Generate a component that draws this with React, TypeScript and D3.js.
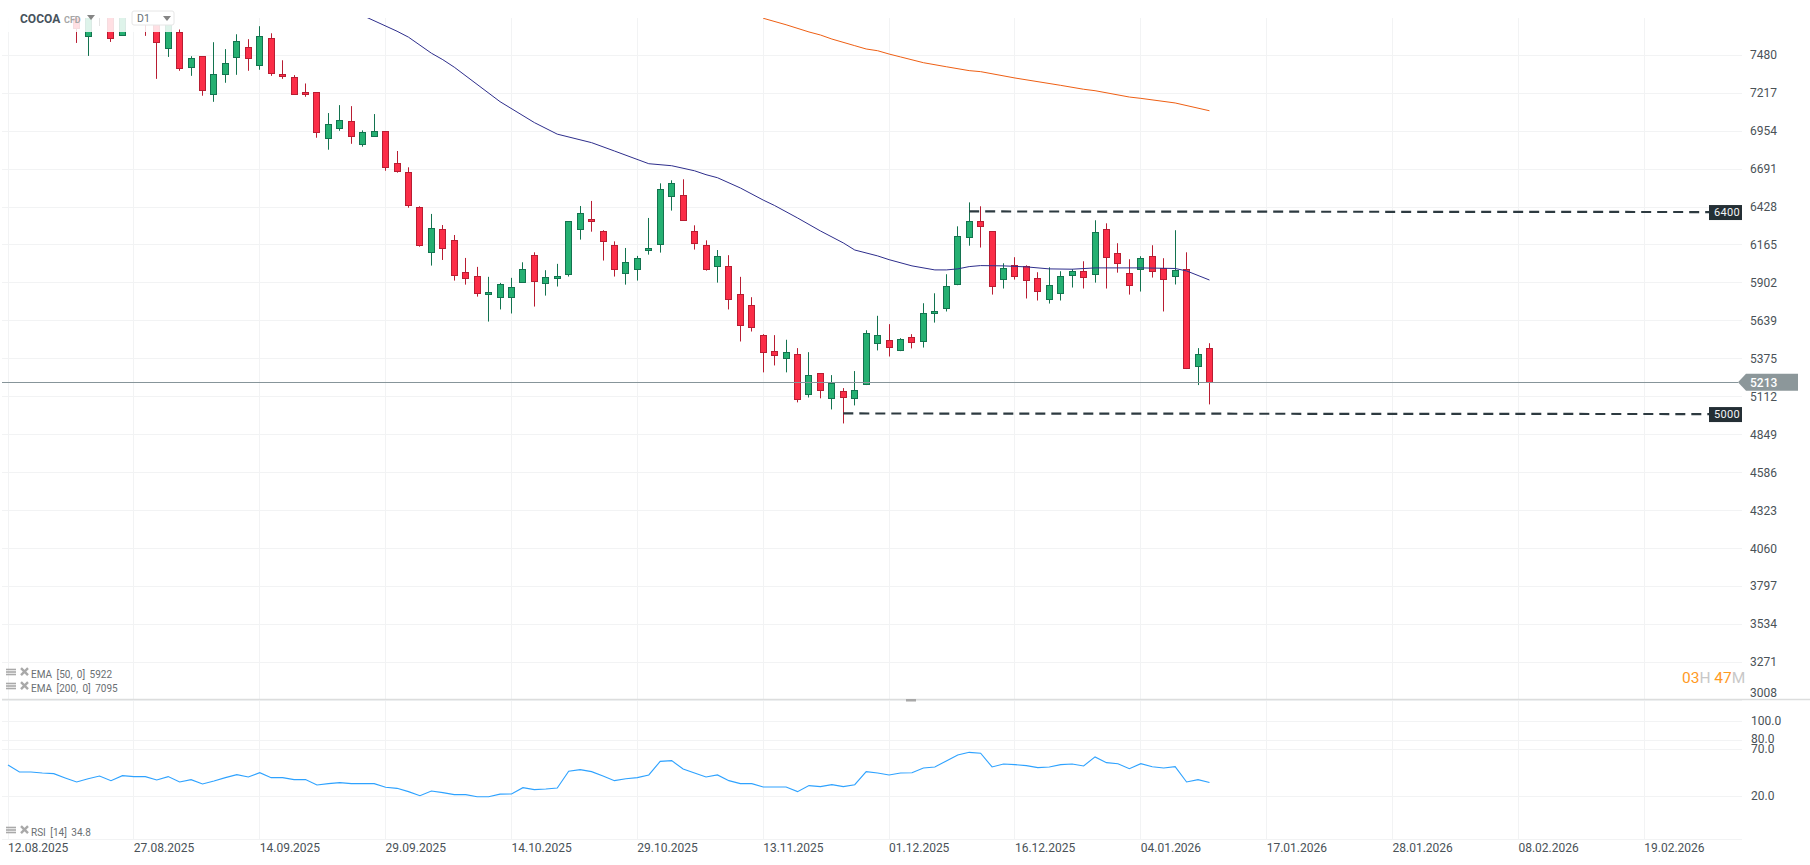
import { useEffect, useRef } from 'react';
import * as d3 from 'd3';

// OHLC per session, index 0 = 12.08.2025. First bars sit above the visible pane, so they are rough guesses.
const opens = [
  7800, 7900, 7850, 7800, 7860, 7820, 7768, 7614, 7760, 7791,
  7621, 7800, 7757, 7768, 7531, 7644, 7399, 7471, 7212, 7351,
  7462, 7540, 7413, 7602, 7353, 7332, 7222, 7222, 6901, 6972,
  7021, 6859, 6915, 6952, 6730, 6668, 6426, 6112, 6273, 6197,
  5976, 5948, 5821, 5803, 5803, 5907, 6094, 5900, 5932, 5962,
  6273, 6343, 6260, 6163, 5969, 5997, 6128, 6170, 6502, 6509,
  6260, 6163, 6017, 6017, 5824, 5748, 5540, 5429, 5381, 5408,
  5132, 5277, 5104, 5152, 5104, 5201, 5484, 5505, 5436, 5526,
  5498, 5692, 5727, 5893, 6218, 6329, 6260, 5927, 6024, 6017,
  5934, 5789, 5831, 5955, 5983, 5962, 6274, 6107, 5969, 5997,
  6087, 6003, 5948, 5997, 5325, 5450,
];
const highs = [
  7950, 8000, 7950, 7900, 7920, 7880, 7815, 7815, 7850, 7826,
  7826, 7850, 7791, 7815, 7757, 7658, 7473, 7473, 7570, 7522,
  7625, 7591, 7681, 7632, 7445, 7342, 7284, 7222, 7079, 7134,
  7127, 6959, 7072, 6952, 6816, 6703, 6433, 6380, 6303, 6234,
  6075, 6013, 5944, 5902, 5937, 6045, 6114, 5990, 6034, 6329,
  6435, 6470, 6267, 6190, 6144, 6089, 6352, 6592, 6613, 6620,
  6301, 6197, 6130, 6094, 5944, 5803, 5547, 5540, 5508, 5450,
  5422, 5277, 5263, 5173, 5291, 5574, 5674, 5616, 5519, 5547,
  5761, 5830, 5962, 6294, 6460, 6433, 6260, 6038, 6080, 6024,
  5976, 6010, 5983, 5997, 6052, 6336, 6315, 6177, 6066, 6087,
  6163, 6073, 6267, 6114, 5450, 5484,
];
const lows = [
  7760, 7800, 7790, 7760, 7780, 7770, 7565, 7475, 7745, 7572,
  7614, 7745, 7614, 7316, 7468, 7372, 7337, 7199, 7157, 7289,
  7344, 7372, 7379, 7337, 7316, 7205, 7192, 6908, 6825, 6956,
  6866, 6846, 6915, 6679, 6666, 6423, 6153, 6022, 6061, 5918,
  5890, 5807, 5634, 5718, 5690, 5907, 5738, 5814, 5877, 5946,
  6202, 6257, 6057, 5946, 5890, 5918, 6098, 6112, 6403, 6336,
  6133, 5987, 5904, 5718, 5496, 5565, 5282, 5330, 5282, 5074,
  5108, 5102, 5025, 4928, 5053, 5194, 5434, 5392, 5429, 5448,
  5454, 5627, 5704, 5886, 6160, 6147, 5821, 5863, 5925, 5794,
  5780, 5759, 5780, 5870, 5863, 5904, 5863, 5973, 5821, 5842,
  5939, 5704, 5891, 5305, 5194, 5060,
];
const closes = [
  7900, 7850, 7800, 7860, 7820, 7790, 7669, 7768, 7800, 7600,
  7791, 7760, 7699, 7572, 7722, 7392, 7464, 7233, 7353, 7429,
  7575, 7462, 7616, 7358, 7337, 7212, 7205, 6943, 7000, 7028,
  6915, 6945, 6952, 6700, 6673, 6437, 6160, 6280, 6140, 5953,
  5932, 5831, 5837, 5893, 5872, 5997, 5914, 5941, 5948, 6329,
  6384, 6329, 6190, 5997, 6045, 6073, 6142, 6550, 6592, 6336,
  6177, 5997, 6087, 5789, 5609, 5595, 5422, 5401, 5422, 5097,
  5263, 5159, 5210, 5111, 5159, 5554, 5540, 5457, 5512, 5491,
  5692, 5706, 5879, 6225, 6329, 6294, 5879, 6003, 5948, 5920,
  5844, 5886, 5948, 5983, 5941, 6253, 6080, 6038, 5886, 6073,
  5983, 5927, 5990, 5311, 5408, 5213,
];

const ema50Index = [
  31, 34, 35, 37, 38, 39, 43, 46, 48, 51, 53, 56, 58, 60, 61, 62, 64, 66, 67, 69, 71, 73, 74,
  76, 77, 79, 81, 82, 83, 84, 85, 87, 89, 91, 93, 95, 99, 102, 103, 105,
];
const ema50Values = [
  7755, 7646, 7605, 7494, 7449, 7397, 7158, 7013, 6933, 6874, 6816, 6728, 6714, 6679, 6652, 6631, 6560, 6476, 6438, 6352, 6262, 6179, 6130,
  6089, 6063, 6020, 5992, 5992, 5999, 6015, 6022, 6020, 6013, 5999, 5997, 6006, 6006, 6002, 5985, 5922,
];
const ema200Index = [66, 68, 70, 71, 72, 74, 75, 76, 77, 78, 80, 82, 84, 85, 88, 92, 94, 95, 98, 99, 102, 105];
const ema200Values = [
  7736, 7691, 7641, 7620, 7592, 7546, 7523, 7511, 7488, 7468, 7428,
  7400, 7373, 7366, 7322, 7271, 7244, 7234, 7190, 7181, 7149, 7095,
];

const rsiValues = [
  53.4, 46, 46, 44.9, 44.2, 39.6, 35.3, 38.8, 41.7, 36.7,
  42, 41, 41, 37.4, 41, 35.3, 37.8, 33.2, 36.4, 39.9,
  43.1, 40.6, 45.2, 39.9, 39.9, 37.8, 37.8, 32.1, 33.5, 34.6,
  33.5, 33.5, 33.5, 29.6, 28.5, 25, 20.7, 25.7, 23.9, 21.8,
  21.8, 19.6, 19.6, 22.3, 22.5, 29.2, 27.1, 27.8, 28.9, 46.7,
  48.4, 46.3, 41.7, 36.7, 38.8, 39.9, 42.8, 57.3, 58, 49.2,
  44.9, 40.6, 42.8, 36.7, 33.5, 33.5, 30, 30, 30, 25,
  31.4, 30.3, 32.4, 30.3, 32.4, 46.3, 44.9, 42.8, 44.9, 45.2,
  50.2, 51.3, 57.7, 64.1, 66.9, 65.9, 51.3, 54.5, 53.8, 52.7,
  50.6, 51.3, 53.8, 54.5, 52.4, 62, 55.9, 54.8, 49.5, 54.8,
  51.6, 50.2, 51.6, 35.3, 37.8, 34.8,
];

const dateTickIndex = [0, 11, 22, 33, 44, 55, 66, 77, 88, 99, 110, 121, 132, 143];
const dateLabels = [
  '12.08.2025', '27.08.2025', '14.09.2025', '29.09.2025', '14.10.2025', '29.10.2025', '13.11.2025',
  '01.12.2025', '16.12.2025', '04.01.2026', '17.01.2026', '28.01.2026', '08.02.2026', '19.02.2026',
];
const priceTicks = [7480, 7217, 6954, 6691, 6428, 6165, 5902, 5639, 5375, 5112, 4849, 4586, 4323, 4060, 3797, 3534, 3271, 3008];
const rsiTicks = [100, 80, 70, 20];

const lastPrice = 5213;
const levels = [
  { price: 6400, from: 84 },
  { price: 5000, from: 73 },
];

const FONT = 'Roboto, sans-serif';
const UP_FILL = '#25b072';
const UP_LINE = '#13734f';
const DOWN_FILL = '#fb2d47';
const DOWN_LINE = '#b81d32';
const GRID = '#f2f3f4';
const TEXT = '#4a5257';

export default function App() {
  const svgRef = useRef<SVGSVGElement>(null);

  useEffect(() => {
    if (!svgRef.current) return;
    const svg = d3.select(svgRef.current);
    svg.selectAll('*').remove();

    const gridRight = 1742;
    const x = d3.scaleLinear().domain([0, 143]).range([8, 1644.3]);
    const y = d3.scaleLinear().domain([7480, 3008]).range([55.2, 700.5]);
    const r = d3.scaleLinear().domain([100, 20]).range([721.3, 796.3]);
    const crisp = (v: number) => Math.floor(v) + 0.5;

    svg.append('defs').append('clipPath').attr('id', 'price-pane')
      .append('rect').attr('x', 0).attr('y', 18).attr('width', 1810).attr('height', 681);

    // 1. Grilles
    const grid = svg.append('g');
    grid.selectAll('line.v').data(dateTickIndex).enter().append('line')
      .attr('x1', d => crisp(x(d))).attr('x2', d => crisp(x(d))).attr('y1', 18).attr('y2', 839.5)
      .attr('stroke', GRID);
    const hLines = [...priceTicks.map(d => y(d)), ...rsiTicks.map(d => r(d)), 839.5];
    grid.selectAll('line.h').data(hLines).enter().append('line')
      .attr('x1', 2).attr('x2', gridRight).attr('y1', d => crisp(d)).attr('y2', d => crisp(d))
      .attr('stroke', GRID);

    // 2. Bougies
    const pane = svg.append('g').attr('clip-path', 'url(#price-pane)');
    const candles = pane.selectAll('g').data(opens.map((o, i) => i)).enter().append('g');
    const cx = (i: number) => crisp(x(i));
    const isUp = (i: number) => closes[i] >= opens[i];
    candles.append('line')
      .attr('x1', cx).attr('x2', cx)
      .attr('y1', i => y(highs[i])).attr('y2', i => y(lows[i]))
      .attr('stroke', i => (isUp(i) ? UP_LINE : DOWN_LINE))
      .attr('stroke-width', 1);
    candles.append('rect')
      .attr('x', i => cx(i) - 3)
      .attr('width', 6)
      .attr('y', i => Math.round(y(Math.max(opens[i], closes[i]))) + 0.5)
      .attr('height', i => Math.max(1, Math.round(Math.abs(y(opens[i]) - y(closes[i])))))
      .attr('fill', i => (isUp(i) ? UP_FILL : DOWN_FILL))
      .attr('stroke', i => (isUp(i) ? UP_LINE : DOWN_LINE))
      .attr('stroke-width', 1);

    // 3. Moyennes mobiles
    const emaLine = d3.line<number>().x(d => x(d)).y(0);
    pane.append('path')
      .attr('fill', 'none').attr('stroke', '#2e2e8c').attr('stroke-width', 1)
      .attr('d', emaLine.y((d, i) => y(ema50Values[i]))(ema50Index));
    pane.append('path')
      .attr('fill', 'none').attr('stroke', '#ee5f14').attr('stroke-width', 1)
      .attr('d', emaLine.y((d, i) => y(ema200Values[i]))(ema200Index));

    // 4. Dernier prix
    pane.append('line')
      .attr('x1', 2).attr('x2', 1738).attr('y1', crisp(y(lastPrice))).attr('y2', crisp(y(lastPrice)))
      .attr('stroke', '#87959a').attr('stroke-width', 1);

    // 5. Niveaux 6400 / 5000
    levels.forEach(l => {
      svg.append('line')
        .attr('x1', x(l.from)).attr('x2', 1709)
        .attr('y1', y(l.price) + 0.4).attr('y2', y(l.price) + 1)
        .attr('stroke', '#2d3a40').attr('stroke-width', 2.2)
        .attr('stroke-dasharray', '10,6');
      svg.append('rect')
        .attr('x', 1709).attr('y', y(l.price) - 6).attr('width', 33).attr('height', 15)
        .attr('fill', '#242f35');
      svg.append('text')
        .attr('x', 1714).attr('y', y(l.price) + 4.5)
        .attr('fill', '#f2f4f5').attr('font-family', FONT).attr('font-size', 11)
        .attr('letter-spacing', 0.3)
        .text(l.price);
    });

    // 6. Axes
    const priceAxis = svg.append('g')
      .attr('transform', 'translate(1750,0)')
      .call(d3.axisRight(y).tickValues(priceTicks).tickFormat(d => String(d)).tickSize(0).tickPadding(0).offset(0));
    priceAxis.select('.domain').remove();
    priceAxis.selectAll('text')
      .attr('fill', TEXT).attr('font-family', FONT).attr('font-size', 12)
      .attr('dy', (d: any) => (d === 3008 ? '-0.3em' : '0.32em'));

    const rsiAxis = svg.append('g')
      .attr('transform', 'translate(1751,0)')
      .call(d3.axisRight(r).tickValues(rsiTicks).tickFormat(d => Number(d).toFixed(1)).tickSize(0).tickPadding(0).offset(0));
    rsiAxis.select('.domain').remove();
    rsiAxis.selectAll('text')
      .attr('fill', TEXT).attr('font-family', FONT).attr('font-size', 12)
      .attr('dy', (d: any) => (d === 80 ? '0.28em' : '0.32em'));

    const dateAxis = svg.append('g')
      .attr('transform', 'translate(0,839)')
      .call(d3.axisBottom(x).tickValues(dateTickIndex).tickFormat((d, i) => dateLabels[i]).tickSize(0).tickPadding(0).offset(0));
    dateAxis.select('.domain').remove();
    dateAxis.selectAll('text')
      .attr('fill', TEXT).attr('font-family', FONT).attr('font-size', 12)
      .attr('text-anchor', 'start').attr('y', 4);

    // 7. Séparateur et RSI
    svg.append('line')
      .attr('x1', 2).attr('x2', 1810).attr('y1', 699.5).attr('y2', 699.5)
      .attr('stroke', '#dcdddd').attr('stroke-width', 1.5);
    svg.append('rect')
      .attr('x', 906).attr('y', 699).attr('width', 10).attr('height', 2.5).attr('fill', '#a8a8a8');
    svg.append('path')
      .attr('fill', 'none').attr('stroke', '#2ea2ff').attr('stroke-width', 1.1)
      .attr('d', d3.line<number>().x((d, i) => x(i)).y(d => r(d))(rsiValues));

    // 8. Étiquette du dernier prix
    const ty = y(lastPrice);
    svg.append('path')
      .attr('d', `M1738,${ty}L1746,${ty - 8.5}H1798V${ty + 8.5}H1746Z`)
      .attr('fill', '#8c979a');
    svg.append('text')
      .attr('x', 1750).attr('y', ty + 4.3)
      .attr('fill', '#ffffff').attr('font-family', FONT).attr('font-size', 12).attr('font-weight', 500)
      .text(lastPrice);

    // 9. En-tête
    svg.append('rect')
      .attr('x', 5).attr('y', 18).attr('width', 170).attr('height', 14)
      .attr('fill', '#ffffff').attr('opacity', 0.85);
    svg.append('text')
      .attr('x', 20).attr('y', 23)
      .attr('fill', '#46525c').attr('font-family', FONT).attr('font-size', 12).attr('font-weight', 700)
      .text('COCOA');
    svg.append('text')
      .attr('x', 64).attr('y', 22.5)
      .attr('fill', '#a6a6a6').attr('font-family', FONT).attr('font-size', 9).attr('font-weight', 700)
      .text('CFD');
    svg.append('path').attr('d', 'M87,15H95L91,20Z').attr('fill', '#858585');
    svg.append('line')
      .attr('x1', 99.5).attr('x2', 99.5).attr('y1', 18).attr('y2', 26)
      .attr('stroke', '#e4e4e4');
    svg.append('rect')
      .attr('x', 132).attr('y', 11).attr('width', 42).attr('height', 14).attr('rx', 2)
      .attr('fill', '#ffffff').attr('stroke', '#e6e6e6');
    svg.append('text')
      .attr('x', 137).attr('y', 22)
      .attr('fill', '#666f75').attr('font-family', FONT).attr('font-size', 10.5)
      .text('D1');
    svg.append('path').attr('d', 'M163,16H171L167,21Z').attr('fill', '#858585');

    // 10. Légendes
    const legend = (label: string, ty2: number) => {
      const g = svg.append('g').attr('transform', `translate(6,${ty2})`);
      [-6, -3.5, -1].forEach(dy => {
        g.append('rect').attr('x', 0).attr('y', dy).attr('width', 10).attr('height', 1.6).attr('fill', '#a9a9a9');
      });
      g.append('path')
        .attr('d', 'M15,-6.5L22,0.5M22,-6.5L15,0.5')
        .attr('stroke', '#a9a9a9').attr('stroke-width', 2.4);
      g.append('text')
        .attr('x', 25).attr('y', 3.5)
        .attr('fill', '#6a6f73').attr('font-family', FONT).attr('font-size', 10)
        .attr('word-spacing', 2)
        .text(label);
    };
    legend('EMA [50, 0] 5922', 674.7);
    legend('EMA [200, 0] 7095', 688.7);
    legend('RSI [14] 34.8', 832.7);

    // 11. Compte à rebours
    const countdown = svg.append('text')
      .attr('x', 1682).attr('y', 682.5)
      .attr('font-family', FONT).attr('font-size', 15.5);
    countdown.append('tspan').attr('fill', '#ff9a1f').text('03');
    countdown.append('tspan').attr('fill', '#c8c8c8').text('H ');
    countdown.append('tspan').attr('fill', '#ff9a1f').text('47');
    countdown.append('tspan').attr('fill', '#c8c8c8').text('M');
  }, []);

  return (
    <svg
      ref={svgRef}
      width="1810"
      height="865"
      style={{ position: 'absolute', left: 0, top: 0, background: '#ffffff', display: 'block' }}
    />
  );
}
